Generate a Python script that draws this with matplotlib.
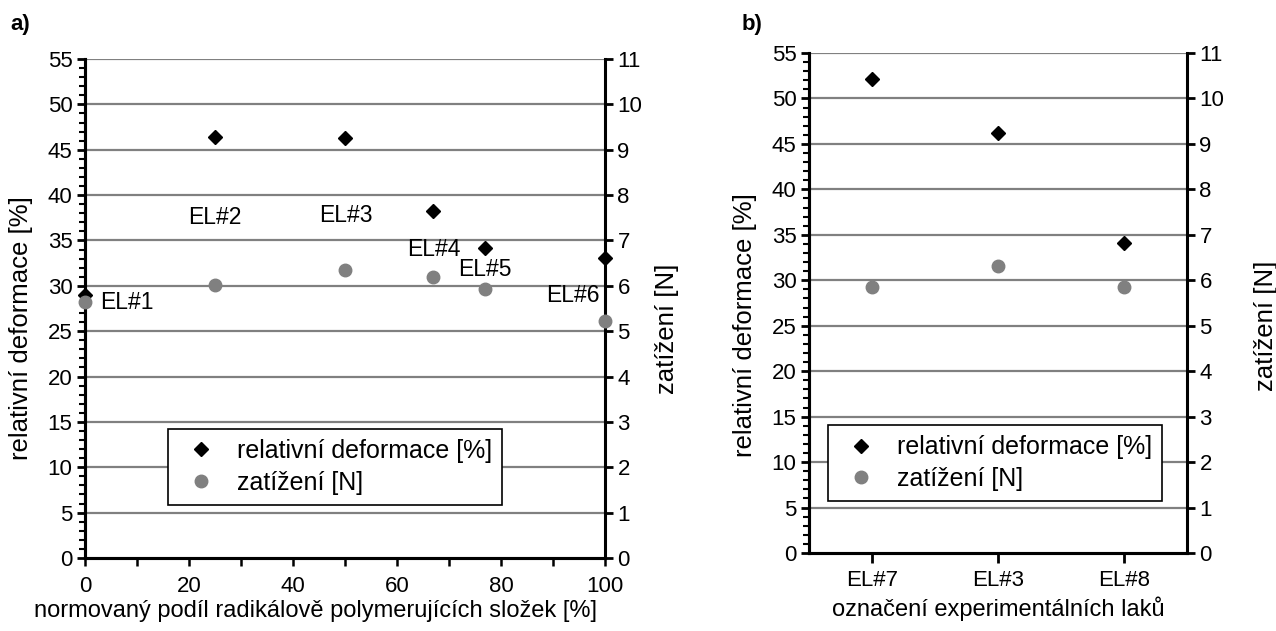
import matplotlib

matplotlib.use("Agg")
import matplotlib.pyplot as plt
from matplotlib.lines import Line2D
from matplotlib.ticker import MultipleLocator

plt.rcParams["font.family"] = ["Liberation Sans", "DejaVu Sans"]
plt.rcParams["font.size"] = 16

# panel a) - share of radically polymerising components
share = [0, 25, 50, 67, 77, 100]
deform_a = [29.0, 46.4, 46.3, 38.3, 34.2, 33.1]
load_a = [5.64, 6.01, 6.34, 6.19, 5.93, 5.22]
names_a = ["EL#1", "EL#2", "EL#3", "EL#4", "EL#5", "EL#6"]
# label anchor (x, y in deformation units) and alignment for each point
label_pos_a = [(2.9, 28.2, "left"), (25, 37.5, "center"), (50.2, 37.7, "center"),
               (67, 34.0, "center"), (77, 31.8, "center"), (99, 28.9, "right")]

# panel b) - experimental lacquers
names_b = ["EL#7", "EL#3", "EL#8"]
deform_b = [52.1, 46.2, 34.1]
load_b = [5.85, 6.31, 5.85]

GRAY = "#808080"
DEF_LABEL = "relativní deformace [%]"
LOAD_LABEL = "zatížení [N]"
YLAB_SIZE = 18.5
XLAB_SIZE = 17
LEG_SIZE = 18


def style_axes(ax, ax2):
    ax.set_ylim(0, 55)
    ax2.set_ylim(0, 11)
    ax.yaxis.set_major_locator(MultipleLocator(5))
    ax.yaxis.set_minor_locator(MultipleLocator(1))
    ax2.yaxis.set_major_locator(MultipleLocator(1))
    for y in range(5, 56, 5):
        ax.axhline(y, color=GRAY, lw=1.6, zorder=0)
    for a in (ax, ax2):
        a.spines["top"].set_visible(False)
        for s in ("left", "right", "bottom"):
            a.spines[s].set_linewidth(2.2)
    ax.spines["right"].set_visible(False)
    ax.tick_params(axis="y", which="major", direction="out", length=6, width=2, pad=3)
    ax.tick_params(axis="y", which="minor", direction="out", length=4, width=1.5)
    ax2.tick_params(axis="y", which="major", direction="out", length=6, width=2, pad=3)
    ax.set_ylabel(DEF_LABEL, fontsize=YLAB_SIZE)
    ax2.set_ylabel(LOAD_LABEL, fontsize=YLAB_SIZE)


def add_legend(fig, ax2, anchor):
    handles = [
        Line2D([], [], ls="none", marker="D", ms=7, color="black"),
        Line2D([], [], ls="none", marker="o", ms=9, color=GRAY),
    ]
    leg = ax2.legend(handles, [DEF_LABEL, LOAD_LABEL], loc="upper left",
                     bbox_to_anchor=anchor, bbox_transform=fig.transFigure,
                     borderaxespad=0, fancybox=False, framealpha=1,
                     edgecolor="black", handlelength=1.8, handletextpad=0.55,
                     borderpad=0.4, labelspacing=0.3, fontsize=LEG_SIZE)
    leg.get_frame().set_linewidth(1.2)


fig = plt.figure(figsize=(12.76, 6.31), dpi=100)

# ---- panel a)
ax = fig.add_axes([0.0666, 0.1157, 0.4075, 0.7908])
ax2 = ax.twinx()
style_axes(ax, ax2)
ax.set_xlim(0, 100)
ax.xaxis.set_major_locator(MultipleLocator(20))
ax.xaxis.set_minor_locator(MultipleLocator(10))
ax.tick_params(axis="x", which="both", direction="out", length=6, width=1.8, pad=7)
ax.plot(share, deform_a, ls="none", marker="D", ms=7, color="black", clip_on=False, zorder=3)
ax2.plot(share, load_a, ls="none", marker="o", ms=9, color=GRAY, clip_on=False, zorder=3)
for name, (x, y, ha) in zip(names_a, label_pos_a):
    ax.text(x, y, name, ha=ha, va="center", fontsize=16.5, zorder=4)
ax.set_xlabel("normovaný podíl radikálově polymerujících složek [%]", fontsize=XLAB_SIZE)
ax.xaxis.set_label_coords(0.443, -0.085)
ax.yaxis.set_label_coords(-0.1, 0.46)
ax2.yaxis.set_label_coords(1.096, 0.46)
add_legend(fig, ax2, (0.1317, 0.320))
fig.text(0.008, 0.978, "a)", fontsize=16, fontweight="bold", va="top")

# ---- panel b)
bx = fig.add_axes([0.634, 0.1236, 0.2962, 0.7924])
bx2 = bx.twinx()
style_axes(bx, bx2)
pos = range(len(names_b))
bx.set_xlim(-0.5, len(names_b) - 0.5)
bx.set_xticks(list(pos))
bx.set_xticklabels(names_b)
bx.tick_params(axis="x", direction="out", length=7, width=2, pad=5)
bx.plot(list(pos), deform_b, ls="none", marker="D", ms=7, color="black", zorder=3)
bx2.plot(list(pos), load_b, ls="none", marker="o", ms=9, color=GRAY, zorder=3)
bx.set_xlabel("označení experimentálních laků", fontsize=XLAB_SIZE)
bx.xaxis.set_label_coords(0.5, -0.086)
bx.yaxis.set_label_coords(-0.138, 0.455)
bx2.yaxis.set_label_coords(1.178, 0.455)
add_legend(fig, bx2, (0.649, 0.326))
fig.text(0.5815, 0.978, "b)", fontsize=16, fontweight="bold", va="top")

fig.savefig("out.png", dpi=100)
